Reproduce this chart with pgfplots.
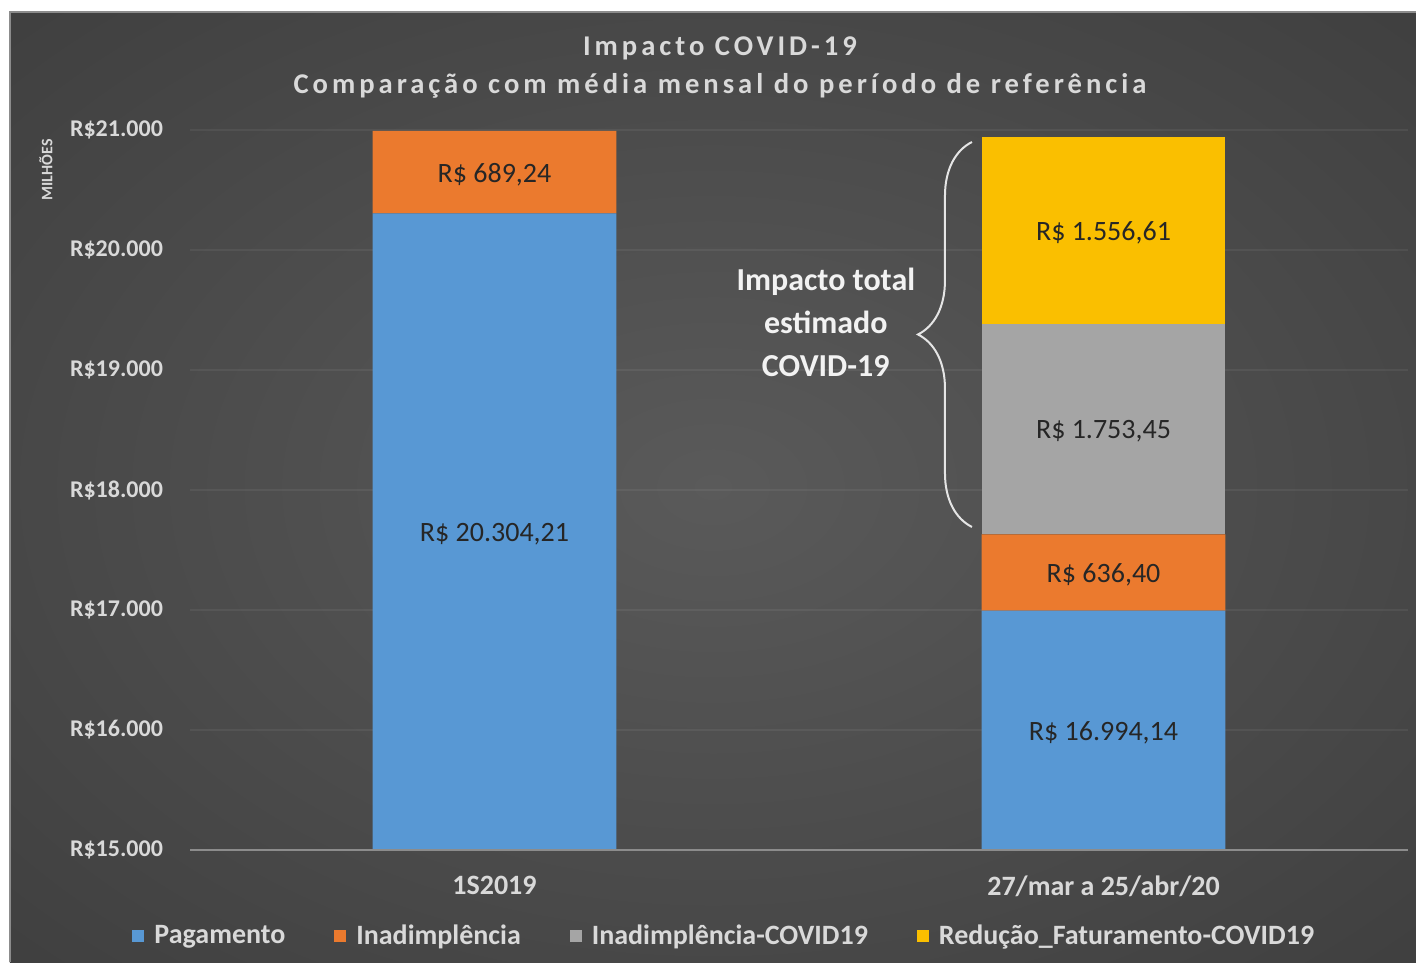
\documentclass[border=0pt]{standalone}
\usepackage{fontspec}
\setmainfont{Carlito}
\newfontfamily\titlefont[LetterSpace=14]{Carlito}
\usepackage{pgfplots}
\usepackage{pgfplotstable}
\pgfplotsset{compat=1.18}
\usetikzlibrary{decorations.pathreplacing}
\definecolor{cPag}{HTML}{5898D4}
\definecolor{cIna}{HTML}{EB7A2E}
\definecolor{cCov}{HTML}{A5A5A5}
\definecolor{cRed}{HTML}{FABF00}
\definecolor{txt}{HTML}{D9D9D9}
\definecolor{bgin}{HTML}{5A5A5A}
\definecolor{bgout}{HTML}{242424}
\pgfdeclareradialshading{bgshade}{\pgfpoint{0bp}{0bp}}{color(0bp)=(bgin); color(72bp)=(bgout)}
\tikzset{lab/.style={font=\fontsize{14}{16}\selectfont, text=black!85, yshift=-1.2pt}}

\pgfplotstableread{
x  pag       ina     cov      red
0  20304.21  689.24  0        0
1  16994.14  636.40  1753.45  1556.61
}\datatab

\begin{document}
\begin{tikzpicture}
\begin{scope}[x=0.5pt,y=-0.5pt,shift={(-190,-850)}]
  \useasboundingbox (0,0) rectangle (1416,962);
  \fill[white] (0,0) rectangle (1416,962);
  \shade[shading=bgshade] (10,12) rectangle (1416,962);
  \draw[black!45, line width=1pt] (10,962) -- (10,12) -- (1416,12);
  \node[text=txt, font=\titlefont\bfseries\fontsize{14.3}{16}\selectfont] at (720,48) {Impacto COVID-19};
  \node[text=txt, font=\titlefont\bfseries\fontsize{14.3}{16}\selectfont] at (720,86) {Comparação com média mensal do período de referência};
  \node[text=txt, rotate=90, font=\bfseries\fontsize{8}{9}\selectfont] at (46,170) {MILHÕES};
\end{scope}
\begin{axis}[
  at={(0,0)}, anchor=south west, scale only axis,
  width=609pt, height=360pt,
  xmin=-0.5, xmax=1.5, ymin=15000, ymax=21000,
  ybar stacked, bar width=0.4,
  xtick={0,1}, xticklabels={1S2019, 27/mar a 25/abr/20},
  ytick={15000,16000,...,21000},
  scaled y ticks=false,
  yticklabels={R\$15.000,R\$16.000,R\$17.000,R\$18.000,R\$19.000,R\$20.000,R\$21.000},
  major tick length=0pt,
  axis line style={draw=none},
  ymajorgrids, grid style={white, opacity=0.06, line width=0.8pt},
  yticklabel style={font=\bfseries\fontsize{12}{14}\selectfont, text=txt, xshift=-10pt},
  xticklabel style={font=\bfseries\fontsize{14}{16}\selectfont, text=txt, yshift=-9.5pt},
  legend style={at={(0.4395,-0.1194)}, anchor=center, legend columns=-1,
    draw=none, fill=none, text=txt, font=\bfseries\fontsize{14}{16}\selectfont,
    /tikz/every even column/.append style={column sep=22.5pt}},
  legend image code/.code={\fill[#1] (0pt,-3pt) rectangle (6pt,3pt); \path (9pt,0pt);},
]
\addplot[fill=cPag, draw=none] table[x=x, y=pag] {\datatab};
\addlegendentry{Pagamento}
\addplot[fill=cIna, draw=none] table[x=x, y=ina] {\datatab};
\addlegendentry{Inadimplência}
\addplot[fill=cCov, draw=none] table[x=x, y=cov] {\datatab};
\addlegendentry{Inadimplência-COVID19}
\addplot[fill=cRed, draw=none] table[x=x, y=red] {\datatab};
\addlegendentry{Redução\_Faturamento-COVID19}

\coordinate (AL) at (rel axis cs:0,0);
\coordinate (AR) at (rel axis cs:1,0);
\coordinate (L1) at (axis cs:0,17652);
\coordinate (L2) at (axis cs:0,20648.8);
\coordinate (L3) at (axis cs:1,15997);
\coordinate (L4) at (axis cs:1,17312.3);
\coordinate (L5) at (axis cs:1,18507.3);
\coordinate (L6) at (axis cs:1,20162.3);
\coordinate (B1) at (axis cs:0.784,17692);
\coordinate (B2) at (axis cs:0.784,20900);
\coordinate (T1) at (axis cs:0.544,19400);
\end{axis}
\draw[black!45, line width=1.2pt] (AL) -- (AR);
\node[lab] at (L1) {R\$ 20.304,21};
\node[lab] at (L2) {R\$ 689,24};
\node[lab] at (L3) {R\$ 16.994,14};
\node[lab] at (L4) {R\$ 636,40};
\node[lab] at (L5) {R\$ 1.753,45};
\node[lab] at (L6) {R\$ 1.556,61};
\draw[white!90!black, line width=1pt, decorate, decoration={brace, amplitude=27pt}] (B1) -- (B2);
\node[text=white!95!black, align=center, font=\bfseries\fontsize{16}{21.5}\selectfont]
  at (T1) {Impacto total\\estimado\\COVID-19};
\end{tikzpicture}
\end{document}
